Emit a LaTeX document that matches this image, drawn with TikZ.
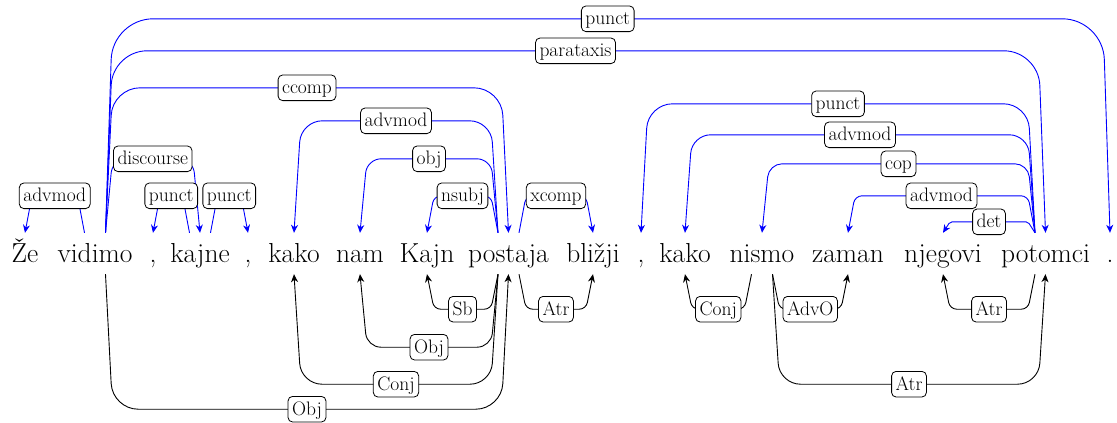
\documentclass[tikz,border=0pt]{standalone}
\usepackage{fontspec}
\usetikzlibrary{calc,arrows.meta}
\tikzset{
  word/.style={anchor=base, inner sep=0pt, text height=29pt, text depth=12pt, font=\fontsize{27.5}{33}\selectfont},
  lab/.style={draw=black, fill=white, text=black, rounded corners=4.5pt, line width=0.8pt, inner xsep=4pt, inner ysep=2.8pt, text height=16pt, text depth=4pt, font=\fontsize{19.5}{23}\selectfont},
  tip/.style={-{Stealth[length=8pt,width=7pt,inset=2.5pt]}},
  upedge/.style={draw=blue, line width=0.9pt, tip},
  downedge/.style={draw=black, line width=0.9pt, tip},
}
% #1 from, #2 x offset at start, #3 to, #4 direction sign, #5 height, #6 label, #7 label name
\newcommand\depup[7]{%
  \pgfmathsetmacro\rr{0.19*#5}%
  \draw[upedge, rounded corners=\rr pt] ($(#1.north)+(#2,0)$) -- ++({7*#4},{-#5})
    -- node[lab] (#7) {#6} ($(#3.north)+({-7*#4},{-#5})$) -- (#3.north);
}
\newcommand\depdown[7]{%
  \pgfmathsetmacro\rr{0.19*#5}%
  \draw[downedge, rounded corners=\rr pt] ($(#1.south)+(#2,0)$) -- ++({7*#4},{#5})
    -- node[lab] (#7) {#6} ($(#3.south)+({-7*#4},{#5})$) -- (#3.south);
}
\begin{document}
\begin{tikzpicture}[x=1pt,y=-1pt]
\useasboundingbox (0,0) rectangle (1117,423);
% words
\node[word] (w1) at (25,262) {Že};
\node[word] (w2) at (95,262) {vidimo};
\node[word] (w3) at (153,262) {,};
\node[word] (w4) at (200,262) {kajne};
\node[word] (w5) at (248,262) {,};
\node[word] (w6) at (294,262) {kako};
\node[word] (w7) at (360,262) {nam};
\node[word] (w8) at (427,262) {Kajn};
\node[word] (w9) at (508.5,262) {postaja};
\node[word] (w10) at (593,262) {bližji};
\node[word] (w11) at (641,262) {,};
\node[word] (w12) at (685,262) {kako};
\node[word] (w13) at (762,262) {nismo};
\node[word] (w14) at (848,262) {zaman};
\node[word] (w15) at (943,262) {njegovi};
\node[word] (w16) at (1045.5,262) {potomci};
\node[word] (w17) at (1110,262) {.};
% edges above
\depup{w2}{10.5}{w17}{1}{214}{punct}{a1}
\depup{w2}{10.5}{w16}{1}{182}{parataxis}{a2}
\depup{w2}{10.5}{w9}{1}{145}{ccomp}{a3}
\depup{w2}{10.5}{w4}{1}{74}{discourse}{a4}
\depup{w2}{-10.5}{w1}{-1}{37}{advmod}{a5}
\depup{w4}{-10.5}{w3}{-1}{37}{punct}{a6}
\depup{w4}{10.5}{w5}{1}{37}{punct}{a7}
\depup{w9}{-10.5}{w6}{-1}{112}{advmod}{a8}
\depup{w9}{-10.5}{w7}{-1}{74}{obj}{a9}
\depup{w9}{-10.5}{w8}{-1}{37}{nsubj}{a10}
\depup{w9}{10.5}{w10}{1}{37}{xcomp}{a11}
\depup{w16}{-10.5}{w11}{-1}{129}{punct}{a12}
\depup{w16}{-10.5}{w12}{-1}{98}{advmod}{a13}
\depup{w16}{-10.5}{w13}{-1}{69}{cop}{a14}
\depup{w16}{-10.5}{w14}{-1}{37}{advmod}{a15}
\depup{w16}{-10.5}{w15}{-1}{11}{det}{a16}
% edges below
\depdown{w2}{10.5}{w9}{1}{135}{Obj}{b1}
\depdown{w9}{-10.5}{w6}{-1}{110}{Conj}{b2}
\depdown{w9}{-10.5}{w7}{-1}{73}{Obj}{b3}
\depdown{w9}{-10.5}{w8}{-1}{35}{Sb}{b4}
\depdown{w9}{10.5}{w10}{1}{35}{Atr}{b5}
\depdown{w13}{-10.5}{w12}{-1}{35}{Conj}{b6}
\depdown{w13}{10.5}{w14}{1}{35}{AdvO}{b7}
\depdown{w13}{10.5}{w16}{1}{110}{Atr}{b8}
\depdown{w16}{-10.5}{w15}{-1}{35}{Atr}{b9}
\end{tikzpicture}
\end{document}
